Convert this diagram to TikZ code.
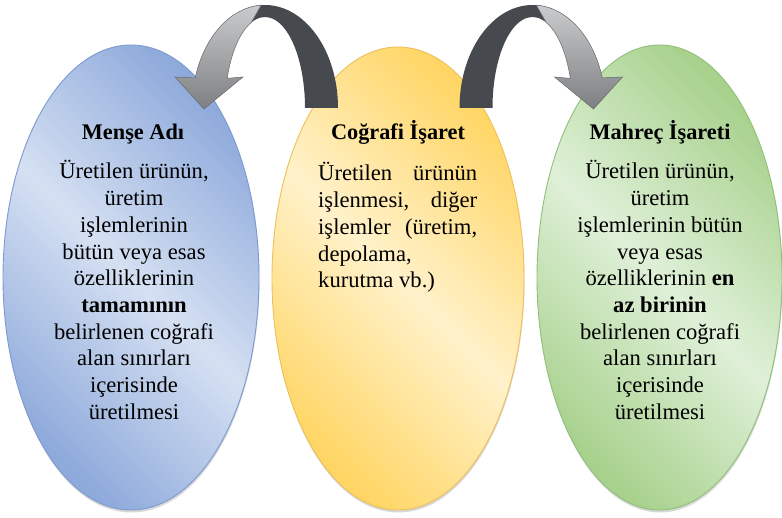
\documentclass[tikz,border=0pt]{standalone}
\usepackage{fontspec}
\setmainfont{Liberation Serif}
\newfontfamily\tnr{Liberation Serif}
\usetikzlibrary{shapes.geometric,shadows}
\definecolor{bluedark}{HTML}{8EAADB}
\definecolor{bluelight}{HTML}{D5E0F2}
\definecolor{blueline}{HTML}{7C9AD0}
\definecolor{yeldark}{HTML}{FFD665}
\definecolor{yellight}{HTML}{FFF1CA}
\definecolor{yelline}{HTML}{EDC05A}
\definecolor{grndark}{HTML}{A8D18D}
\definecolor{grnlight}{HTML}{DFF0D8}
\definecolor{grnline}{HTML}{8FC07A}
\definecolor{arrdark}{HTML}{464A4E}
\definecolor{arrlight}{HTML}{CACBCC}
\definecolor{arrmid}{HTML}{7D7F82}
\definecolor{arrline}{HTML}{66686B}
\newcommand{\curvarrowshape}{%
  \fill[arrdark] (305,409) -- (338,409)
    arc[start angle=0,end angle=106,x radius=73pt,y radius=103pt]
    -- (250.02,493.37)
    arc[start angle=112,end angle=0,x radius=40pt,y radius=91pt] -- cycle;
  \shade[lightband] (261.18,511.86)
    arc[start angle=93,end angle=163,x radius=73pt,y radius=103pt]
    -- (175,440) -- (204,408) -- (243,440) -- (227.18,438.63)
    arc[start angle=161,end angle=110,x radius=40pt,y radius=91pt] -- cycle;
}
\begin{document}
\begin{tikzpicture}[x=1pt,y=1pt,
  oval/.style={ellipse, inner sep=0pt, line width=0.9pt,
    drop shadow={shadow xshift=0.5pt, shadow yshift=-2.5pt, opacity=0.25, fill=black!60}},
  titletext/.style={font=\tnr\fontsize{22.3}{26.7}\selectfont\bfseries, anchor=base, inner sep=0pt},
  bodytext/.style={font=\tnr\fontsize{22.6}{26.7}\selectfont, inner sep=0pt},
  lightband/.style={top color=arrlight, bottom color=arrmid, draw=arrline, line width=0.5pt}
]
\useasboundingbox (0,0) rectangle (782,517);
\fill[white] (0,0) rectangle (782,517);

\node[oval, minimum width=256pt, minimum height=465pt, draw=blueline,
  top color=bluedark, bottom color=bluedark, middle color=bluelight, shading angle=-45] (mense) at (131,239.5) {};
\node[oval, minimum width=252pt, minimum height=463pt, draw=yelline,
  top color=yeldark, bottom color=yeldark, middle color=yellight, shading angle=-45] (cografi) at (398,238.5) {};
\node[oval, minimum width=245pt, minimum height=465pt, draw=grnline,
  top color=grndark, bottom color=grndark, middle color=grnlight, shading angle=-45] (mahrec) at (659.5,239.5) {};

\curvarrowshape
\begin{scope}[shift={(797.5,0)},xscale=-1]
\curvarrowshape
\end{scope}

\node[titletext] (t1) at (133,377) {Menşe Adı};
\node[titletext] (t2) at (398,377) {Coğrafi İşaret};
\node[titletext] (t3) at (660,377) {Mahreç İşareti};

\node[bodytext, anchor=base] (b1) at (134,338) {\begin{tabular}[t]{@{}c@{}}
Üretilen ürünün,\\ üretim\\ işlemlerinin\\ bütün veya esas\\ özelliklerinin\\
\textbf{tamamının}\\ belirlenen coğrafi\\ alan sınırları\\ içerisinde\\ üretilmesi
\end{tabular}};
\node[bodytext, anchor=base west] (b2) at (318,336) {\begin{tabular}[t]{@{}l@{}}
\makebox[159pt][s]{Üretilen ürünün}\\ \makebox[159pt][s]{işlenmesi, diğer}\\
\makebox[159pt][s]{işlemler (üretim,}\\ depolama,\\ kurutma vb.)
\end{tabular}};
\node[bodytext, anchor=base] (b3) at (660,338) {\begin{tabular}[t]{@{}c@{}}
Üretilen ürünün,\\ üretim\\ işlemlerinin bütün\\ veya esas\\ özelliklerinin \textbf{en}\\
\textbf{az birinin}\\ belirlenen coğrafi\\ alan sınırları\\ içerisinde\\ üretilmesi
\end{tabular}};
\end{tikzpicture}
\end{document}
